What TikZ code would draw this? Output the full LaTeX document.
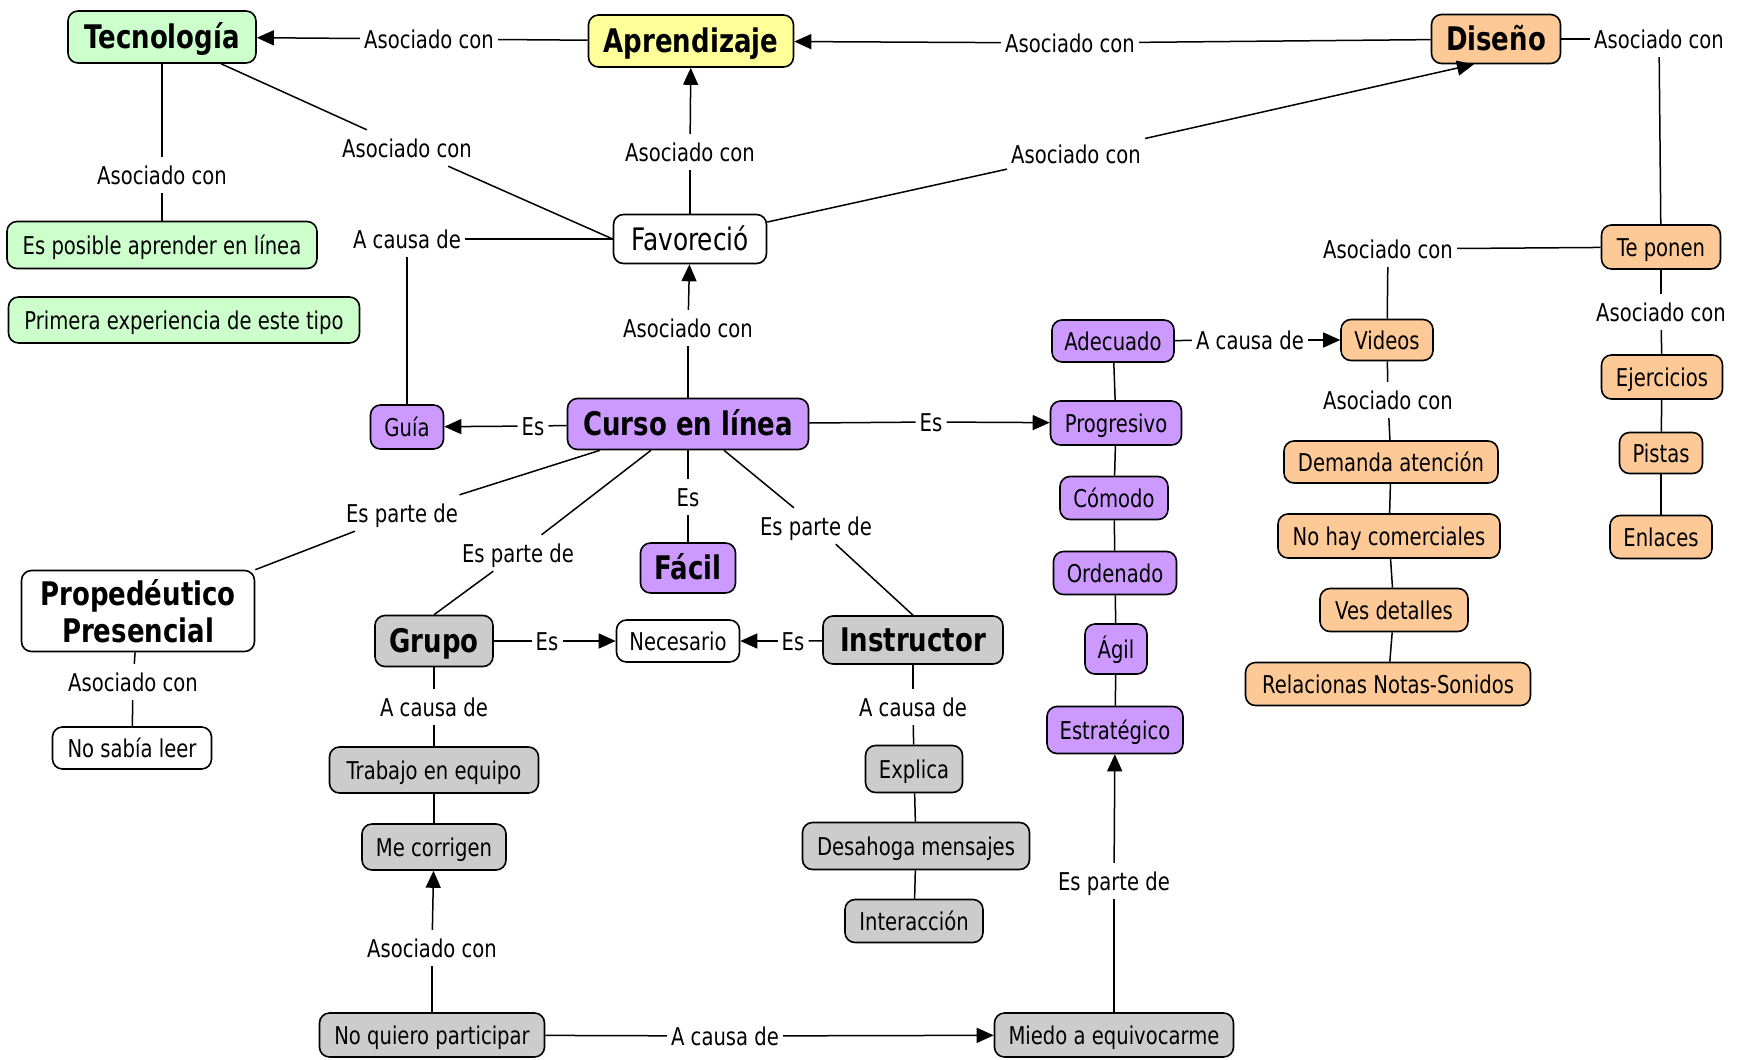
\documentclass[tikz,border=0pt]{standalone}
\usepackage{fontspec}
\setmainfont{DejaVu Sans}[FakeStretch=0.8]
\usetikzlibrary{arrows.meta}
\definecolor{cgreen}{RGB}{204,255,204}
\definecolor{cyellow}{RGB}{255,255,153}
\definecolor{corange}{RGB}{253,201,151}
\definecolor{cpurple}{RGB}{204,153,255}
\definecolor{cgray}{RGB}{204,204,204}
\newcommand\fsn{\fontsize{24.5}{28}\selectfont}
\newcommand\fsf{\fontsize{31}{34}\selectfont}
\newcommand\fsb{\fontsize{32.5}{37}\selectfont\bfseries}
\tikzset{
  concept/.style={draw, line width=1.6pt, rounded corners=10pt, inner xsep=4pt, inner ysep=0pt,
    font=\fsn, text height=23pt, text depth=5pt, align=center},
  big/.style={concept, font=\fsb, text height=30pt, text depth=7pt},
  lab/.style={inner sep=4pt, font=\fsn, text height=23pt, text depth=5pt},
  link/.style={line width=1.5pt},
  arr/.style={link, -{Triangle[length=17pt,width=15pt]}},
  sz/.style 2 args={minimum width=#1pt, minimum height=#2pt},
}
\begin{document}
\begin{tikzpicture}[x=1pt,y=-1pt]
\useasboundingbox[fill=white] (0,0) rectangle (1740,1060);
% concepts
\node[big, fill=cgreen, sz={188}{52}] (tec) at (162,37) {Tecnología};
\node[big, fill=cyellow, sz={205}{52}] (apr) at (691,41) {Aprendizaje};
\node[big, fill=corange, sz={129}{49}] (dis) at (1496,39) {Diseño};
\node[concept, fill=cgreen, sz={310}{47}] (espos) at (162,245) {Es posible aprender en línea};
\node[concept, fill=cgreen, sz={351}{46}] (prim) at (184,320) {Primera experiencia de este tipo};
\node[concept, fill=white, sz={153}{49}, font=\fsf, text height=28pt, text depth=6pt] (fav) at (690,239) {Favoreció};
\node[big, fill=cpurple, sz={241}{51}] (curso) at (688,424) {Curso en línea};
\node[concept, fill=cpurple, sz={73}{44}] (guia) at (407,427) {Guía};
\node[big, fill=cpurple, sz={95}{50}] (facil) at (688,568) {Fácil};
\node[concept, fill=white, sz={233}{81}, font=\fsb, text height=, text depth=] (prop) at (138,611) {Propedéutico\\Presencial};
\node[concept, fill=white, sz={159}{42}] (nosabia) at (132,748) {No sabía leer};
\node[big, fill=cgray, sz={118}{51}] (grupo) at (434,641) {Grupo};
\node[concept, fill=white, sz={123}{42}] (nec) at (678,641) {Necesario};
\node[big, fill=cgray, sz={180}{48}] (ins) at (913,640) {Instructor};
\node[concept, fill=cgray, sz={209}{46}] (trab) at (434,770) {Trabajo en equipo};
\node[concept, fill=cgray, sz={144}{46}] (mecor) at (434,847) {Me corrigen};
\node[concept, fill=cgray, sz={225}{44}] (noq) at (432,1035) {No quiero participar};
\node[concept, fill=cgray, sz={239}{44}] (miedo) at (1114,1035) {Miedo a equivocarme};
\node[concept, fill=cgray, sz={97}{47}] (expl) at (914,769) {Explica};
\node[concept, fill=cgray, sz={227}{47}] (desa) at (916,846) {Desahoga mensajes};
\node[concept, fill=cgray, sz={138}{43}] (inter) at (914,921) {Interacción};
\node[concept, fill=cpurple, sz={122}{42}] (adec) at (1113,341) {Adecuado};
\node[concept, fill=corange, sz={92}{41}] (videos) at (1387,340) {Videos};
\node[concept, fill=cpurple, sz={131}{44}] (prog) at (1116,423) {Progresivo};
\node[concept, fill=cpurple, sz={108}{43}] (comodo) at (1114,498) {Cómodo};
\node[concept, fill=cpurple, sz={123}{43}] (orden) at (1115,573) {Ordenado};
\node[concept, fill=cpurple, sz={62}{50}] (agil) at (1116,649) {Ágil};
\node[concept, fill=cpurple, sz={136}{47}] (estr) at (1115,730) {Estratégico};
\node[concept, fill=corange, sz={119}{44}] (tepon) at (1661,247) {Te ponen};
\node[concept, fill=corange, sz={121}{44}] (ejer) at (1662,377) {Ejercicios};
\node[concept, fill=corange, sz={83}{41}] (pistas) at (1661,453) {Pistas};
\node[concept, fill=corange, sz={102}{43}] (enl) at (1661,537) {Enlaces};
\node[concept, fill=corange, sz={214}{42}] (dem) at (1391,462) {Demanda atención};
\node[concept, fill=corange, sz={222}{44}] (nohay) at (1389,536) {No hay comerciales};
\node[concept, fill=corange, sz={148}{43}] (ves) at (1394,610) {Ves detalles};
\node[concept, fill=corange, sz={285}{43}] (rel) at (1388,684) {Relacionas Notas-Sonidos};
% linking phrases
\node[lab] (l1) at (429,39) {Asociado con};
\node[lab] (l2) at (1070,43) {Asociado con};
\node[lab] (l3) at (1659,39) {Asociado con};
\node[lab] (l4) at (162,175) {Asociado con};
\node[lab] (l5) at (407,148) {Asociado con};
\node[lab] (l6) at (690,152) {Asociado con};
\node[lab] (l7) at (1076,154) {Asociado con};
\node[lab] (l8) at (407,239) {A causa de};
\node[lab] (l9) at (688,328) {Asociado con};
\node[lab] (l10) at (533,426) {Es};
\node[lab] (l11) at (931,422) {Es};
\node[lab] (l12) at (402,513) {Es parte de};
\node[lab] (l13) at (518,553) {Es parte de};
\node[lab] (l14) at (688,497) {Es};
\node[lab] (l15) at (816,526) {Es parte de};
\node[lab] (l16) at (133,682) {Asociado con};
\node[lab] (l17) at (547,641) {Es};
\node[lab] (l18) at (793,641) {Es};
\node[lab] (l19) at (434,707) {A causa de};
\node[lab] (l20) at (913,707) {A causa de};
\node[lab] (l21) at (432,948) {Asociado con};
\node[lab] (l22) at (725,1036) {A causa de};
\node[lab] (l23) at (1114,881) {Es parte de};
\node[lab] (l24) at (1250,340) {A causa de};
\node[lab] (l25) at (1388,249) {Asociado con};
\node[lab] (l26) at (1661,312) {Asociado con};
\node[lab] (l27) at (1388,400) {Asociado con};
% connectors
\draw[link] (apr) -- (l1); \draw[arr] (l1) -- (tec);
\draw[link] (dis) -- (l2); \draw[arr] (l2) -- (apr);
\draw[link] (dis) -- (l3); \draw[link] (l3) -- (tepon);
\draw[link] (tec) -- (l4); \draw[link] (l4) -- (espos);
\draw[link] (fav.west) -- (l5); \draw[link] (l5) -- (tec);
\draw[link] (fav) -- (l6); \draw[arr] (l6) -- (apr);
\draw[link] (fav) -- (l7); \draw[arr] (l7) -- ([xshift=-22pt]dis.south);
\draw[link] (fav.west) -- (l8); \draw[link] (l8) -- (guia);
\draw[link] (curso) -- (l9); \draw[arr] (l9) -- (fav);
\draw[link] (curso) -- (l10); \draw[arr] (l10) -- (guia);
\draw[link] (curso) -- (l11); \draw[arr] (l11) -- (prog);
\draw[link] ([xshift=-88pt]curso.south) -- (l12); \draw[link] (l12) -- (prop.north east);
\draw[link] ([xshift=-37pt]curso.south) -- (l13); \draw[link] (l13) -- (grupo.north);
\draw[link] (curso) -- (l14); \draw[link] (l14) -- (facil);
\draw[link] ([xshift=36pt]curso.south) -- (l15); \draw[link] (l15) -- (ins.north);
\draw[link] (prop) -- (l16); \draw[link] (l16) -- (nosabia);
\draw[link] (grupo) -- (l17); \draw[arr] (l17) -- (nec);
\draw[link] (ins) -- (l18); \draw[arr] (l18) -- (nec);
\draw[link] (grupo) -- (l19); \draw[link] (l19) -- (trab);
\draw[link] (ins) -- (l20); \draw[link] (l20) -- (expl);
\draw[link] (noq) -- (l21); \draw[arr] (l21) -- (mecor);
\draw[link] (noq) -- (l22); \draw[arr] (l22) -- (miedo);
\draw[link] (miedo) -- (l23); \draw[arr] (l23) -- (estr);
\draw[link] (adec) -- (l24); \draw[arr] (l24) -- (videos);
\draw[link] (tepon) -- (l25); \draw[link] (l25) -- (videos);
\draw[link] (tepon) -- (l26); \draw[link] (l26) -- (ejer);
\draw[link] (videos) -- (l27); \draw[link] (l27) -- (dem);
\draw[link] (trab) -- (mecor);
\draw[link] (expl) -- (desa); \draw[link] (desa) -- (inter);
\draw[link] (adec) -- (prog); \draw[link] (prog) -- (comodo); \draw[link] (comodo) -- (orden);
\draw[link] (orden) -- (agil); \draw[link] (agil) -- (estr);
\draw[link] (dem) -- (nohay); \draw[link] (nohay) -- (ves); \draw[link] (ves) -- (rel);
\draw[link] (ejer) -- (pistas); \draw[link] (pistas) -- (enl);
\end{tikzpicture}
\end{document}
